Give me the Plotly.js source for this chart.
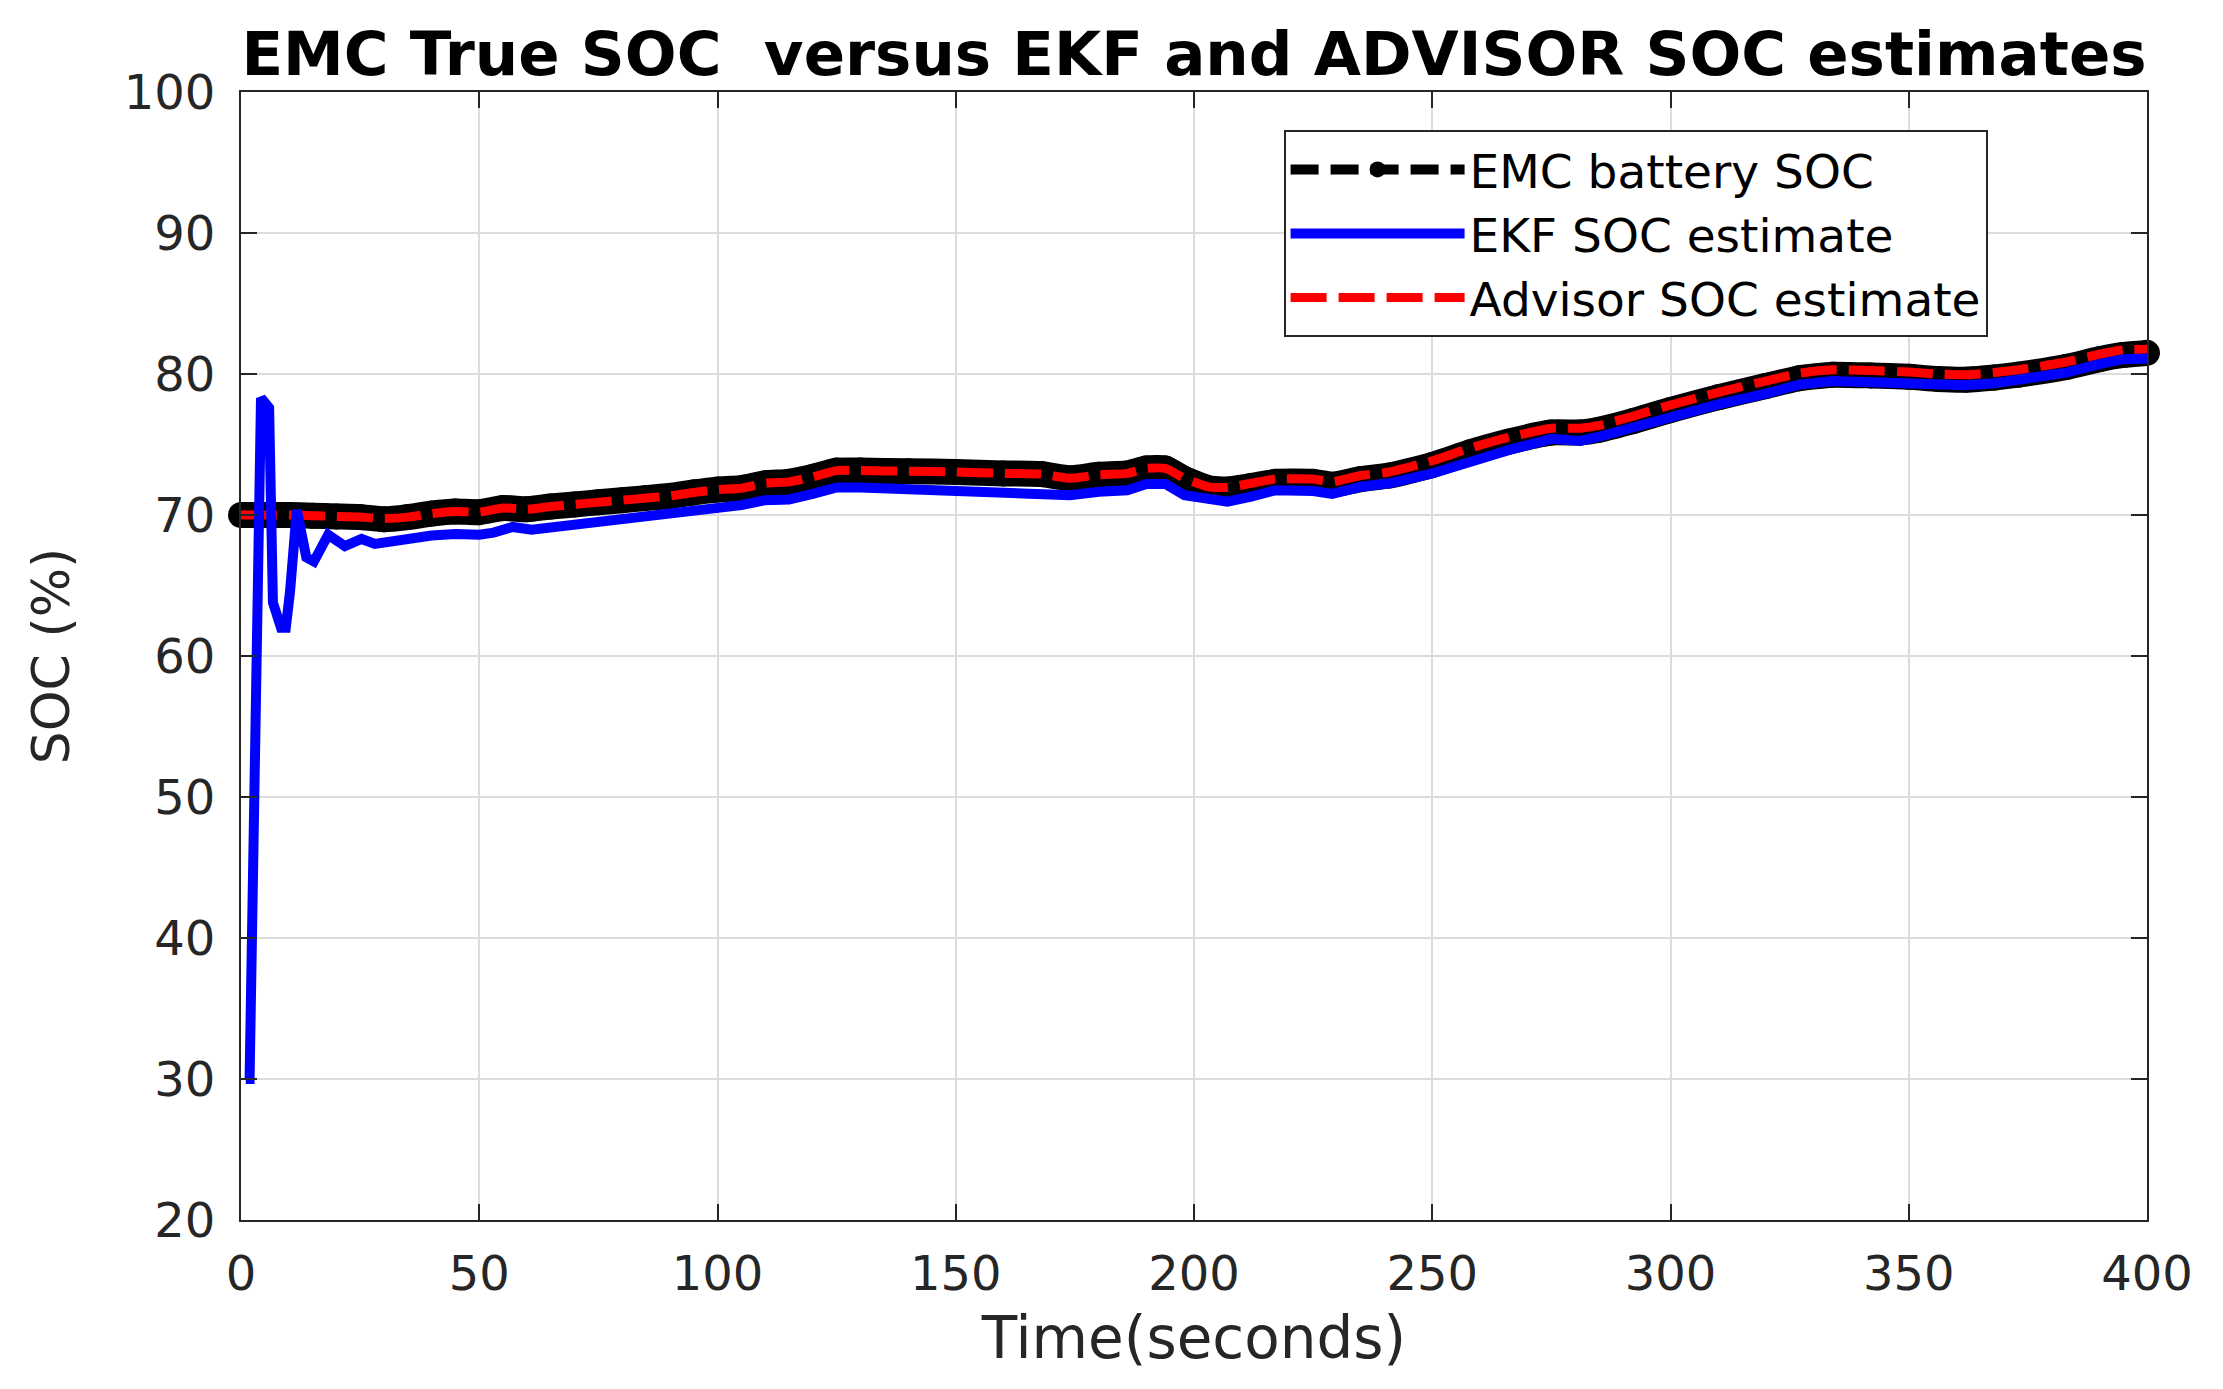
<!DOCTYPE html>
<html>
<head>
<meta charset="utf-8">
<script src="https://cdn.plot.ly/plotly-3.0.1.min.js"></script>
<style>
  html, body { margin: 0; padding: 0; background: white; }
  #soc_plot { width: 2223px; height: 1389px; }
</style>
</head>
<body>
<div id="soc_plot"></div>
<script>
//---------------------------------------------------------------------------------------------------------------------
// Data: time in seconds, SOC in percent
//---------------------------------------------------------------------------------------------------------------------
var timeTrue = [0, 5, 10, 15, 20, 25, 30, 35, 40, 45, 50, 55, 60, 65, 70, 75, 80, 85, 90, 95,
                100, 105, 110, 115, 120, 125, 130, 140, 150, 160, 168, 174, 180, 186, 190, 194, 198, 203, 207, 212,
                217, 225, 229, 235, 241, 250, 258, 266, 275, 281, 285, 292, 300, 310, 320, 327, 334, 342, 350, 356,
                362, 368, 373, 383, 390, 395, 400];
var emcSoc = [70.0, 70.0, 70.0, 69.95, 69.9, 69.85, 69.7, 69.85, 70.1, 70.25, 70.2, 70.5, 70.4, 70.6, 70.75, 70.9, 71.05, 71.2, 71.35, 71.6,
              71.8, 71.9, 72.25, 72.35, 72.7, 73.15, 73.15, 73.1, 73.05, 72.95, 72.9, 72.6, 72.85, 72.95, 73.3, 73.3, 72.55, 71.9, 71.8, 72.05,
              72.35, 72.35, 72.15, 72.55, 72.8, 73.55, 74.45, 75.2, 75.85, 75.85, 76.05, 76.65, 77.45, 78.35, 79.15, 79.7, 79.95, 79.9, 79.8, 79.65,
              79.6, 79.75, 79.95, 80.5, 81.05, 81.35, 81.5];
var advisorSoc = [70.0, 70.0, 70.0, 69.95, 69.9, 69.85, 69.75, 69.85, 70.1, 70.25, 70.2, 70.5, 70.4, 70.6, 70.75, 70.9, 71.05, 71.2, 71.35, 71.6,
                  71.8, 71.9, 72.25, 72.35, 72.7, 73.15, 73.15, 73.1, 73.05, 72.95, 72.9, 72.6, 72.85, 72.95, 73.3, 73.3, 72.6, 72.0, 71.95, 72.25,
                  72.55, 72.55, 72.35, 72.8, 73.05, 73.85, 74.75, 75.5, 76.15, 76.15, 76.35, 77.0, 77.8, 78.7, 79.5, 80.05, 80.3, 80.25, 80.15, 80.0,
                  79.95, 80.1, 80.3, 80.85, 81.4, 81.7, 81.75];
var timeEkf = [1, 1.8, 4.2, 5.9, 6.7, 8.4, 9.4, 10.3, 11.7, 13.7, 15.3, 18.3, 21.8, 25.3, 28.1, 31.2, 35, 40, 45, 50,
               53, 57, 61, 65, 70, 75, 80, 85, 90, 95, 100, 105, 110, 115, 120, 125, 130, 140, 150, 160,
               168, 174, 180, 186, 190, 194, 198, 203, 207, 212, 217, 225, 229, 235, 241, 250, 258, 266, 275, 281,
               285, 292, 300, 310, 320, 327, 334, 342, 350, 356, 362, 368, 373, 383, 390, 395, 400];
var ekfSoc = [30.0, 30.0, 78.3, 77.6, 63.8, 62.0, 62.0, 64.6, 70.35, 67.0, 66.7, 68.6, 67.8, 68.3, 67.95, 68.15, 68.25, 68.55, 68.65, 68.6,
              68.75, 69.15, 68.95, 69.1, 69.3, 69.55, 69.75, 69.9, 70.1, 70.3, 70.55, 70.7, 71.05, 71.1, 71.5, 71.95, 71.95, 71.85, 71.75, 71.7,
              71.6, 71.4, 71.65, 71.75, 72.2, 72.2, 71.4, 71.05, 70.95, 71.3, 71.75, 71.7, 71.5, 72.0, 72.25, 72.95, 73.85, 74.6, 75.4, 75.25,
              75.55, 76.2, 77.0, 77.85, 78.6, 79.25, 79.5, 79.45, 79.4, 79.3, 79.2, 79.35, 79.55, 80.1, 80.7, 81.05, 81.1];
var xTicks = [0, 50, 100, 150, 200, 250, 300, 350, 400];
var yTicks = [20, 30, 40, 50, 60, 70, 80, 90, 100];

var FONT = "DejaVu Sans";
var AXIS_COLOR = "#262626";

function plot_soc(divId) {
    var plot_div = document.getElementById(divId);
    // EMC true SOC: thick black band (markers on every sample), legend handled by the proxy below
    var trace_emc = {x: timeTrue, y: emcSoc, mode: 'lines+markers', name: 'EMC battery SOC', showlegend: false,
                     cliponaxis: false,
                     line: {color: 'black', width: 26, shape: 'spline', smoothing: 0.5},
                     marker: {color: 'black', size: 26}};
    var trace_emc_legend = {x: [null], y: [null], mode: 'lines+markers', name: 'EMC battery SOC', legendrank: 1,
                     line: {color: 'black', width: 10, dash: '28px,12px'}, marker: {color: 'black', size: 16}};
    var trace_adv = {x: timeTrue, y: advisorSoc, mode: 'lines', name: 'Advisor SOC estimate', legendrank: 3,
                     line: {color: '#ff0000', width: 9, dash: '36px,12px', shape: 'spline', smoothing: 0.5}};
    var trace_ekf = {x: timeEkf, y: ekfSoc, mode: 'lines', name: 'EKF SOC estimate', legendrank: 2,
                     line: {color: '#0000ff', width: 10}};
    var data = [trace_emc, trace_adv, trace_ekf, trace_emc_legend];
    var layout = {
        width: 2223, height: 1389,
        margin: {l: 241, r: 76, t: 92, b: 169},
        paper_bgcolor: 'white', plot_bgcolor: 'white',
        showlegend: true,
        legend: {x: 0.547, y: 0.966, xanchor: 'left', yanchor: 'top', bgcolor: 'white',
                 bordercolor: AXIS_COLOR, borderwidth: 2, itemwidth: 174, tracegroupgap: 0,
                 font: {family: FONT, size: 47, color: 'black'}}
    };
    setPlotTitle(layout, "EMC True SOC&nbsp; versus EKF and ADVISOR SOC estimates");
    setXAxis(layout, "Time(seconds)");
    setYAxis(layout, "SOC (%)");
    Plotly.newPlot(plot_div, data, layout, {displayModeBar: false, staticPlot: true});
}

/**
 * Utility functions
 */
function setPlotTitle(layout, title) {
    layout.title = {text: '<b>' + title + '</b>', font: {family: FONT, size: 61, color: 'black'},
                    x: 0.5, xref: 'paper', y: 1 - 54 / 1389, yref: 'container', yanchor: 'middle'};
    return layout;
}

function setXAxis(layout, xtitle) {
    layout.xaxis = {range: [0, 400], tickvals: xTicks, ticks: 'inside', ticklen: 16, tickwidth: 2, tickcolor: AXIS_COLOR,
        showline: true, linecolor: AXIS_COLOR, linewidth: 2, mirror: 'ticks', zeroline: false,
        showgrid: true, gridcolor: '#dcdcdc', gridwidth: 2, ticklabelstandoff: 10,
        tickfont: {family: FONT, size: 48, color: AXIS_COLOR}};
    layout.xaxis.title = {text: xtitle, font: {family: FONT, size: 58, color: AXIS_COLOR}, standoff: 18};
    return layout;
}

function setYAxis(layout, ytitle) {
    layout.yaxis = {range: [20, 100], tickvals: yTicks, ticks: 'inside', ticklen: 16, tickwidth: 2, tickcolor: AXIS_COLOR,
        showline: true, linecolor: AXIS_COLOR, linewidth: 2, mirror: 'ticks', zeroline: false,
        showgrid: true, gridcolor: '#dcdcdc', gridwidth: 2, ticklabelstandoff: 14,
        tickfont: {family: FONT, size: 48, color: AXIS_COLOR}};
    layout.yaxis.title = {text: ytitle, font: {family: FONT, size: 52, color: AXIS_COLOR}, standoff: 38};
    return layout;
}

plot_soc("soc_plot");
</script>
</body>
</html>
